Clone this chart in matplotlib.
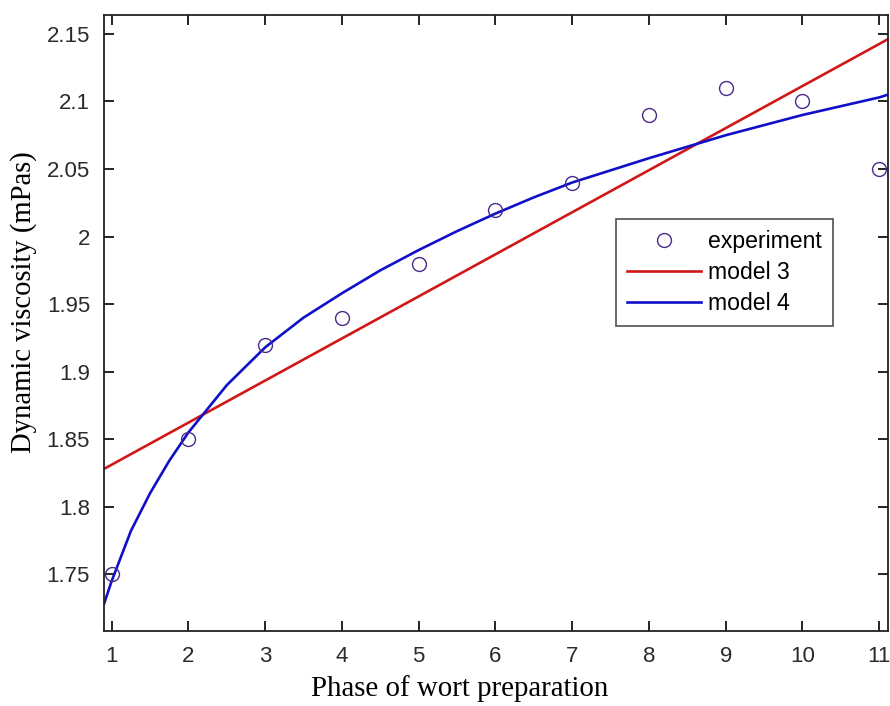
import matplotlib
matplotlib.use("Agg")
import matplotlib.pyplot as plt

# Experimental data
phase = [1, 2, 3, 4, 5, 6, 7, 8, 9, 10, 11]
viscosity = [1.75, 1.85, 1.92, 1.94, 1.98, 2.02, 2.04, 2.09, 2.11, 2.10, 2.05]

# Model 3 (straight line), read at the axis edges
model3_x = [0.9, 11.11]
model3_y = [1.828, 2.146]

# Model 4 (curve)
model4_x = [0.9, 1.0, 1.25, 1.5, 1.75, 2.0, 2.5, 3.0, 3.5, 4.0, 4.5, 5.0,
            5.5, 6.0, 6.5, 7.0, 8.0, 9.0, 10.0, 11.0, 11.11]
model4_y = [1.728, 1.745, 1.782, 1.810, 1.834, 1.855, 1.890, 1.918, 1.940,
            1.958, 1.975, 1.990, 2.004, 2.017, 2.029, 2.040, 2.058, 2.075,
            2.090, 2.103, 2.105]

xticks = [1, 2, 3, 4, 5, 6, 7, 8, 9, 10, 11]
yticks = [1.75, 1.8, 1.85, 1.9, 1.95, 2.0, 2.05, 2.1, 2.15]
yticklabels = ["1.75", "1.8", "1.85", "1.9", "1.95", "2", "2.05", "2.1", "2.15"]

fig = plt.figure(figsize=(8.9, 7.06), dpi=100)
ax = fig.add_axes([104/890, 1 - 631/706, (887.7 - 104)/890, (631 - 15)/706])

ax.plot(phase, viscosity, linestyle="none", marker="o", markersize=10,
        markerfacecolor="none", markeredgecolor="#4a2a8a", markeredgewidth=1.0,
        label="experiment", clip_on=False, zorder=4)
ax.plot(model3_x, model3_y, color="#d01818", linewidth=1.9, label="model 3")
ax.plot(model4_x, model4_y, color="#1010c8", linewidth=1.9, label="model 4")

ax.set_xlim(0.9, 11.11)
ax.set_ylim(1.708, 2.164)
ax.set_xticks(xticks)
ax.set_xticklabels([str(t) for t in xticks])
ax.set_yticks(yticks)
ax.set_yticklabels(yticklabels)

for lab in ax.get_xticklabels() + ax.get_yticklabels():
    lab.set_fontfamily(["Liberation Sans Narrow", "Liberation Sans"])
    lab.set_fontsize(16)
    lab.set_color("#2a2a2a")

ax.tick_params(direction="in", length=7, width=1.2, top=True, right=True)
ax.tick_params(axis="x", pad=11)
ax.tick_params(axis="y", pad=10)
for s in ax.spines.values():
    s.set_linewidth(1.3)
    s.set_color("#222222")

ax.set_xlabel("Phase of wort preparation", fontfamily="Liberation Serif",
              fontsize=20.8)
ax.set_ylabel("Dynamic viscosity (mPas)", fontfamily="Liberation Serif",
              fontsize=20.6)
ax.xaxis.set_label_coords(0.454, -0.072)
ax.yaxis.set_label_coords(-0.085, 0.534)

leg = ax.legend(loc="upper left", bbox_to_anchor=(0.653, 0.669),
                prop={"family": "Liberation Sans", "size": 16.6},
                frameon=True, fancybox=False, edgecolor="#222222",
                handlelength=3.2, handletextpad=0.3, borderpad=0.5,
                labelspacing=0.33, borderaxespad=0)
leg.get_frame().set_linewidth(1.2)

fig.savefig("out.png", dpi=100)
